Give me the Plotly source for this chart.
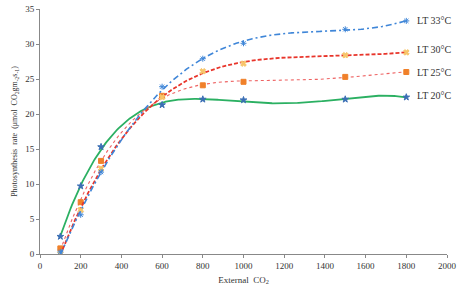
import numpy as np
import plotly.graph_objects as go

co2 = [100, 200, 300, 600, 800, 1000, 1500, 1800]
lt20 = [2.5, 9.7, 15.3, 21.3, 22.1, 22.0, 22.1, 22.4]
lt25 = [0.8, 7.4, 13.3, 22.6, 24.1, 24.6, 25.3, 26.0]
lt30 = [0.0, 6.3, 12.2, 22.4, 26.1, 27.2, 28.4, 28.8]
lt33 = [0.3, 5.6, 11.7, 23.9, 27.9, 30.1, 32.1, 33.3]
labels = ["LT 20°C", "LT 25°C", "LT 30°C", "LT 33°C"]

series = [
    (lt20, "#2bb062", "solid", 1.8, "star", "#3b6fb5", 5),
    (lt25, "#ee6363", "dot", 1.1, "square", "#f0802a", 5),
    (lt30, "#e8352b", "4px,2px", 1.8, "x", "#f7c56a", 5),
    (lt33, "#3f86d8", "6px,3px,2px,3px", 1.6, "asterisk-open", "#3f86d8", 5),
]

fig = go.Figure()
xs = np.linspace(min(co2), max(co2), 300)
for (vals, col, dash, w, sym, mcol, ms), lab in zip(series, labels):
    coef = np.polyfit(co2, vals, 4)
    fig.add_trace(go.Scatter(x=xs, y=np.polyval(coef, xs), mode="lines",
                             line=dict(color=col, dash=dash, width=w),
                             showlegend=False, hoverinfo="skip"))
    fig.add_trace(go.Scatter(x=co2, y=vals, mode="markers",
                             marker=dict(symbol=sym, color=mcol, size=ms,
                                         line=dict(color=mcol, width=1)),
                             showlegend=False))

label_y = [22.6, 26.0, 29.2, 33.3]
for lab, yv in zip(labels, label_y):
    fig.add_annotation(x=1845, y=yv, text=lab, showarrow=False, xanchor="left",
                       yanchor="middle", font=dict(family="Liberation Serif", size=10, color="#333"))

fig.update_layout(
    width=459, height=290,
    margin=dict(l=40, r=12, t=9, b=36, autoexpand=False),
    paper_bgcolor="white", plot_bgcolor="white",
    font=dict(family="Liberation Serif", size=9, color="#333"),
    xaxis=dict(range=[0, 2000], dtick=200, showline=True, linecolor="#888", linewidth=1,
               ticks="outside", ticklen=3, tickcolor="#888", showgrid=False, zeroline=False,
               automargin=False,
               title=dict(text="External  CO<sub>2</sub>", font=dict(size=9), standoff=6)),
    yaxis=dict(range=[0, 35], dtick=5, showline=True, linecolor="#888", linewidth=1,
               ticks="outside", ticklen=3, tickcolor="#888", showgrid=False, zeroline=False,
               automargin=False,
               title=dict(text="Photosynthesis  rate  (μmol  CO<sub>2</sub>gm<sub>-2</sub>s<sub>-1</sub>)",
                          font=dict(size=8), standoff=6)),
)
fig.write_html("out.html")
